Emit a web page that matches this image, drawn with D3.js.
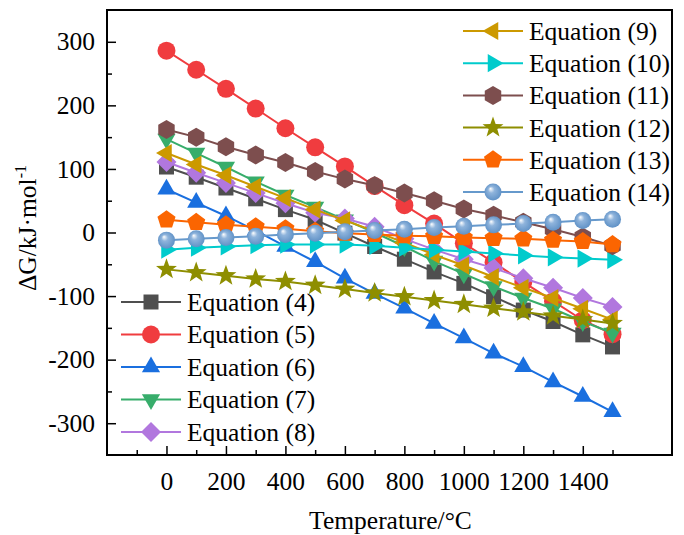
<!DOCTYPE html>
<html><head><meta charset="utf-8">
<script src="https://cdn.jsdelivr.net/npm/d3@7"></script>
<style>html,body{margin:0;padding:0;background:#fff}svg{display:block}text{font-family:"Liberation Serif","Times New Roman",serif;fill:#000}</style>
</head><body><div id="chart"></div>
<script>
const temps = [0,100,200,300,400,500,600,700,800,900,1000,1100,1200,1300,1400,1500];
const eq4  = [103,87,70,53,36,20,-1,-22,-42,-62,-80,-101,-122,-140,-161,-180];
const eq5  = [286,256,226,195,164,134,104,73,43,14,-17,-47,-78,-108,-138,-160];
const eq6  = [68,47,26,3,-22,-46,-72,-96,-119,-143,-166,-190,-211,-235,-258,-282];
const eq7  = [147,125,103,80,59,40,20,0,-22,-45,-65,-85,-103,-120,-140,-158];
const eq8  = [111,94,78,62,46,31,22,9,-10,-27,-42,-56,-72,-87,-103,-117];
const eq9  = [125,107,90,72,54,36,19,2,-16,-35,-52,-70,-87,-103,-120,-137];
const eq10 = [-27,-24,-22,-20,-19,-19,-19,-21,-24,-27,-30,-33,-36,-39,-41,-43];
const eq11 = [162,150,135,122,110,96,84,74,62,50,37,27,16,5,-7,-21];
const eq12 = [-58,-63,-68,-73,-77,-83,-89,-95,-101,-107,-113,-119,-125,-131,-137,-143];
const eq13 = [20,16,12,9,6,2,-1,-3,-5,-6,-8,-9,-10,-12,-14,-19];
const eq14 = [-12,-10,-8,-6,-3,-1,1,3,5,8,10,12,14,16,19,21];
const names = ["Equation (4)","Equation (5)","Equation (6)","Equation (7)","Equation (8)","Equation (9)","Equation (10)","Equation (11)","Equation (12)","Equation (13)","Equation (14)"];
const xTickLabels = [0,200,400,600,800,1000,1200,1400];
const yTickLabels = [-300,-200,-100,0,100,200,300];
const xLabel = "Temperature/°C";

const colors = ["#4f4f4f","#f03c3f","#1a6fdf","#37ad6b","#b177de","#cc9900","#00cbcc","#7d4e4e","#8e8e00","#fb6501","#6699cc"];
const shapes = ["square","circle","triUp","triDown","diamond","triLeft","triRight","hexagon","star","pentagon","sphere"];
const seriesVals = [eq4,eq5,eq6,eq7,eq8,eq9,eq10,eq11,eq12,eq13,eq14];

const W=684,H=535;
const svg=d3.select("#chart").append("svg").attr("width",W).attr("height",H);
const defs=svg.append("defs");
const grad=defs.append("radialGradient").attr("id","sph").attr("cx","0.5").attr("cy","0.5").attr("r","0.55").attr("fx","0.35").attr("fy","0.3");
grad.append("stop").attr("offset","0").attr("stop-color","#ffffff");
grad.append("stop").attr("offset","0.35").attr("stop-color","#8fb4dc");
grad.append("stop").attr("offset","1").attr("stop-color","#5b8ec4");

const L=107,R=672,T=10,B=455;
const x=d3.scaleLinear().domain([-200,1700]).range([L,R]);
const y=d3.scaleLinear().domain([-350,350]).range([B,T]);

function poly(n,r,rot){const p=[];for(let i=0;i<n;i++){const a=rot+i*2*Math.PI/n;p.push([r*Math.cos(a),r*Math.sin(a)]);}return "M"+p.map(q=>q.join(",")).join("L")+"Z";}
function shapePath(s){
  switch(s){
    case "square": return "M-7.5,-7.5H7.5V7.5H-7.5Z";
    case "circle": return d3.symbol(d3.symbolCircle, Math.PI*9*9)();
    case "triUp": return poly(3,10.5,-Math.PI/2);
    case "triDown": return poly(3,10.5,Math.PI/2);
    case "triLeft": return poly(3,10.5,Math.PI);
    case "triRight": return poly(3,10.5,0);
    case "diamond": return poly(4,10,-Math.PI/2);
    case "hexagon": return poly(6,9.5,-Math.PI/2);
    case "pentagon": return poly(5,9.5,-Math.PI/2);
    case "star": {const p=[];for(let i=0;i<10;i++){const r=i%2?4.5:11;const a=-Math.PI/2+i*Math.PI/5;p.push([r*Math.cos(a),r*Math.sin(a)]);}return "M"+p.map(q=>q.join(",")).join("L")+"Z";}
    case "sphere": return d3.symbol(d3.symbolCircle, Math.PI*8.5*8.5)();
  }
}
function drawMarker(g,s,c,cx,cy){
  g.append("path").attr("d",shapePath(s)).attr("transform",`translate(${cx},${cy})`)
   .attr("fill", s==="sphere"?"url(#sph)":c).attr("stroke","none");
}

// series
const line=d3.line().x((d,i)=>x(temps[i])).y(d=>y(d));
const plot=svg.append("g");
seriesVals.forEach((vals,k)=>{
  const g=plot.append("g");
  g.append("path").datum(vals).attr("d",line).attr("fill","none").attr("stroke",colors[k]).attr("stroke-width",2);
  vals.forEach((v,i)=>drawMarker(g,shapes[k],colors[k],x(temps[i]),y(v)));
});

// frame
svg.append("rect").attr("x",L).attr("y",T).attr("width",R-L).attr("height",B-T).attr("fill","none").attr("stroke","#000").attr("stroke-width",2);

const FS=25.5;
// axes (ticks inside)
const xMajor=xTickLabels, xMinor=d3.range(-100,1600,200);
const xa=svg.append("g").attr("transform",`translate(0,${B})`)
  .call(d3.axisBottom(x).tickValues(xMajor).tickSize(-9).tickPadding(17).tickFormat(d=>String(d)));
xa.select(".domain").remove();
xa.selectAll("line").attr("stroke","#000").attr("stroke-width",1.5);
xa.selectAll("text").attr("font-size",FS).attr("font-family","Liberation Serif").attr("fill","#000");
const xm=svg.append("g").attr("transform",`translate(0,${B})`).call(d3.axisBottom(x).tickValues(xMinor).tickSize(-5).tickFormat(""));
xm.select(".domain").remove(); xm.selectAll("line").attr("stroke","#000").attr("stroke-width",1.5);

const ya=svg.append("g").attr("transform",`translate(${L},0)`)
  .call(d3.axisLeft(y).tickValues(yTickLabels).tickSize(-9).tickPadding(12).tickFormat(d=>String(d)));
ya.select(".domain").remove();
ya.selectAll("line").attr("stroke","#000").attr("stroke-width",1.5);
ya.selectAll("text").attr("font-size",FS).attr("font-family","Liberation Serif").attr("fill","#000");
const ym=svg.append("g").attr("transform",`translate(${L},0)`).call(d3.axisLeft(y).tickValues(d3.range(-250,300,100)).tickSize(-5).tickFormat(""));
ym.select(".domain").remove(); ym.selectAll("line").attr("stroke","#000").attr("stroke-width",1.5);

// axis titles
svg.append("text").attr("x",(L+R)/2+1).attr("y",529).attr("text-anchor","middle").attr("font-size",FS).text(xLabel);
const yt=svg.append("text").attr("transform","translate(36,228) rotate(-90)").attr("text-anchor","middle").attr("font-size",FS);
yt.append("tspan").text("ΔG/kJ·mol");
yt.append("tspan").attr("dy",-10).attr("font-size",16).text("-1");

// legends
function legend(items,x0,y0,dy){
  items.forEach((k,j)=>{
    const cy=y0+j*dy;
    const g=svg.append("g");
    g.append("line").attr("x1",x0).attr("x2",x0+60).attr("y1",cy).attr("y2",cy).attr("stroke",colors[k]).attr("stroke-width",2);
    drawMarker(g,shapes[k],colors[k],x0+30,cy);
    g.append("text").attr("x",x0+66).attr("y",cy).attr("dy","0.35em").attr("font-size",FS).text(names[k]);
  });
}
legend([0,1,2,3,4],121,302,32.5);
legend([5,6,7,8,9,10],463,31,32.2);
</script></body></html>
